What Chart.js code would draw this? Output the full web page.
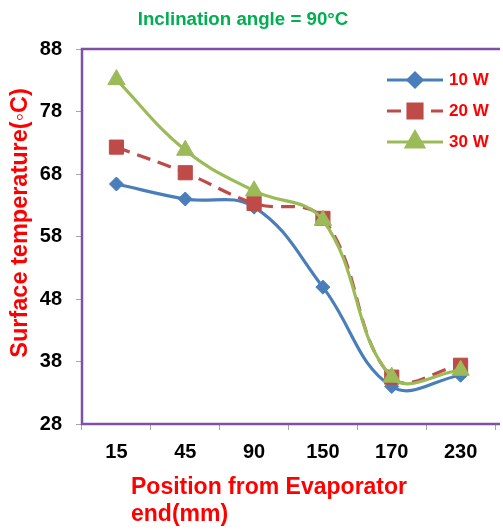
<!DOCTYPE html>
<html>
<head>
<meta charset="utf-8">
<script src="https://cdn.jsdelivr.net/npm/chart.js@4.4.0/dist/chart.umd.min.js"></script>
<style>
  body { margin: 0; background: #fff; overflow: hidden; }
</style>
</head>
<body>
<canvas id="myChart" width="506" height="530"></canvas>
<script>
// данные
const categories = ['15', '45', '90', '150', '170', '230'];
const yTicks = [28, 38, 48, 58, 68, 78, 88];
const seriesNames = ['10 W', '20 W', '30 W'];
const w10 = [66.4, 64.0, 62.7, 49.9, 34.0, 35.8];
const w20 = [72.3, 68.2, 63.3, 60.9, 35.5, 37.4];
const w30 = [83.1, 71.8, 65.3, 60.6, 35.5, 36.6];

const FONT = '"Liberation Sans", Arial, sans-serif';
const frameColor = '#8050a8';

// рамка области графика (сверху, слева, снизу)
const framePlugin = {
	id: 'frame',
	beforeDatasetsDraw(chart) {
		const a = chart.chartArea;
		const ctx = chart.ctx;
		ctx.save();
		ctx.strokeStyle = frameColor;
		ctx.lineWidth = 2.5;
		ctx.beginPath();
		ctx.moveTo(a.right + 5, a.top);
		ctx.lineTo(a.left, a.top);
		ctx.lineTo(a.left, a.bottom);
		ctx.lineTo(a.right + 5, a.bottom);
		ctx.stroke();
		ctx.restore();
	}
};

// заголовок, подписи осей и легенда внутри графика
const textPlugin = {
	id: 'texts',
	afterDraw(chart) {
		const a = chart.chartArea;
		const ctx = chart.ctx;
		ctx.save();
		ctx.font = 'bold 18.7px ' + FONT;
		ctx.fillStyle = '#00b050';
		ctx.textAlign = 'center';
		ctx.textBaseline = 'middle';
		ctx.fillText('Inclination angle = 90°C', 243, 20);

		// подпись оси Y
		ctx.save();
		ctx.translate(21, 223);
		ctx.rotate(-Math.PI / 2);
		ctx.font = 'bold 23.5px ' + FONT;
		ctx.fillStyle = '#ff0000';
		ctx.fillText('Surface temperature(◦C)', 0, 0);
		ctx.restore();

		ctx.font = 'bold 23px ' + FONT;
		ctx.fillStyle = '#ff0000';
		ctx.textAlign = 'left';
		ctx.fillText('Position from Evaporator', a.left + 49, 488);
		ctx.fillText('end(mm)', a.left + 49, 515);

		chart.data.datasets.forEach(function (ds, i) {
			const y = a.top + 31 + i * 31;
			const x0 = a.left + 305, x1 = a.left + 361;
			ctx.strokeStyle = ds.borderColor;
			ctx.lineWidth = 3;
			ctx.setLineDash(ds.borderDash || []);
			ctx.beginPath();
			ctx.moveTo(x0, y);
			ctx.lineTo(x1, y);
			ctx.stroke();
			ctx.setLineDash([]);
			ctx.fillStyle = ds.pointBackgroundColor;
			ctx.strokeStyle = ds.pointBorderColor;
			Chart.helpers.drawPoint(ctx, {
				pointStyle: ds.pointStyle,
				radius: ds.pointRadius,
				rotation: 0,
				borderWidth: 1
			}, (x0 + x1) / 2, y);
			ctx.font = 'bold 17px ' + FONT;
			ctx.fillStyle = '#ff0000';
			ctx.textAlign = 'left';
			ctx.fillText(ds.label, x1 + 6, y);
		});
		ctx.restore();
	}
};

function series(label, data, color, style, radius, dash, order) {
	return {
		label: label,
		data: data,
		borderColor: color,
		backgroundColor: color,
		pointBackgroundColor: color,
		pointBorderColor: color,
		pointStyle: style,
		pointRadius: radius,
		pointBorderWidth: 1,
		borderWidth: 3.2,
		borderDash: dash,
		tension: 0.4,
		fill: false,
		order: order
	};
}

const ctx = document.getElementById('myChart').getContext('2d');
const myChart = new Chart(ctx, {
	type: 'line',
	data: {
		labels: categories,
		datasets: [
			series(seriesNames[0], w10, '#4a7ebb', 'rectRot', 7, [], 2),
			series(seriesNames[1], w20, '#be4b48', 'rect', 10, [14, 8], 1),
			series(seriesNames[2], w30, '#9bbb59', 'triangle', 10, [], 0)
		]
	},
	options: {
		responsive: false,
		devicePixelRatio: 1,
		animation: false,
		layout: {
			padding: { left: 0, right: 0, top: 49, bottom: 70 }
		},
		plugins: {
			legend: { display: false },
			title: { display: false },
			tooltip: { enabled: false }
		},
		scales: {
			x: {
				offset: true,
				afterFit(scale) { scale.height = 36; },
				border: { display: false },
				grid: {
					offset: true,
					drawOnChartArea: false,
					tickLength: 6,
					color: '#a6a6a6'
				},
				ticks: {
					color: '#000',
					padding: 10,
					maxRotation: 0,
					font: { family: FONT, size: 20, weight: 'bold' }
				}
			},
			y: {
				min: yTicks[0],
				max: yTicks[yTicks.length - 1],
				afterBuildTicks(scale) {
					scale.ticks = yTicks.map(function (v) { return { value: v }; });
				},
				afterFit(scale) { scale.width = 82; },
				border: { display: false },
				grid: {
					drawOnChartArea: false,
					tickLength: 6,
					color: '#a6a6a6'
				},
				ticks: {
					color: '#000',
					padding: 14,
					font: { family: FONT, size: 20, weight: 'bold' }
				}
			}
		}
	},
	plugins: [framePlugin, textPlugin]
});
</script>
</body>
</html>
